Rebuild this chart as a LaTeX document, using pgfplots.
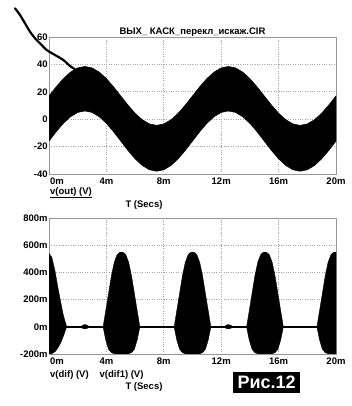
\documentclass[border=0pt]{standalone}
\usepackage{pgfplots}
\pgfplotsset{compat=1.18}
\usepackage{fontspec}
\setmainfont{Liberation Sans}
\newcommand{\tf}{\fontsize{9.5bp}{11bp}\selectfont\bfseries}
\definecolor{frame}{RGB}{150,150,150}
\definecolor{gridc}{RGB}{165,165,165}
\begin{document}
\begin{tikzpicture}[x=1bp,y=1bp]
\path[use as bounding box] (0,0) rectangle (352,406);
\pgfplotsset{
  mcap/.style={
    scale only axis, width=287bp,
    xmin=0, xmax=20,
    xtick={0,4,8,12,16,20},
    xticklabels={{\makebox[0pt][l]{\hspace{1bp}0m}},4m,8m,12m,16m,20m},
    major tick length=0pt,
    grid=major,
    grid style={gridc, dotted, line width=0.8bp},
    axis line style={frame, line width=0.9bp},
    ticklabel style={font=\tf},
    yticklabel style={inner sep=1.2bp},
  }
}
% ---------------- top axis ----------------
\begin{axis}[mcap, height=137bp, at={(49bp,232bp)}, anchor=south west,
  ymin=-40, ymax=60, ytick={-40,-20,0,20,40,60},
  yticklabels={-40,-20,0,20,40,60}]
\addplot[fill=black, draw=black, line width=0.5bp] coordinates {
 (0,17) (0.5,23.64) (1,29.64) (1.5,34.39) (2,37.45) (2.5,38.5) (3,37.45) (3.5,34.39) (4,29.64) (4.5,23.64)
 (5,17) (5.5,10.36) (6,4.36) (6.5,-0.39) (7,-3.45) (7.5,-4.5) (8,-3.45) (8.5,-0.39) (9,4.36) (9.5,10.36)
 (10,17) (10.5,23.64) (11,29.64) (11.5,34.39) (12,37.45) (12.5,38.5) (13,37.45) (13.5,34.39) (14,29.64) (14.5,23.64)
 (15,17) (15.5,10.36) (16,4.36) (16.5,-0.39) (17,-3.45) (17.5,-4.5) (18,-3.45) (18.5,-0.39) (19,4.36) (19.5,10.36)
 (20,17)
 (20,-16) (19.5,-22.8) (19,-28.94) (18.5,-33.8) (18,-36.92) (17.5,-38) (17,-36.92) (16.5,-33.8) (16,-28.94) (15.5,-22.8)
 (15,-16) (14.5,-9.2) (14,-3.06) (13.5,1.8) (13,4.92) (12.5,6) (12,4.92) (11.5,1.8) (11,-3.06) (10.5,-9.2)
 (10,-16) (9.5,-22.8) (9,-28.94) (8.5,-33.8) (8,-36.92) (7.5,-38) (7,-36.92) (6.5,-33.8) (6,-28.94) (5.5,-22.8)
 (5,-16) (4.5,-9.2) (4,-3.06) (3.5,1.8) (3,4.92) (2.5,6) (2,4.92) (1.5,1.8) (1,-3.06) (0.5,-9.2)
 (0,-16)
} -- cycle;
\end{axis}
\node[anchor=base, font=\tf, inner sep=0] at (192.5,371.3) {ВЫХ\_ КАСК\_перекл\_искаж.CIR};
% ---------------- bottom axis ----------------
\begin{axis}[mcap, height=136bp, at={(49bp,52bp)}, anchor=south west,
  ymin=-200, ymax=800, ytick={-200,0,200,400,600,800},
  yticklabels={-200m,0m,200m,400m,600m,800m}]
\addplot[black, line width=1.6bp] coordinates {(0,0) (20,0)};
% burst 1
\addplot[fill=black, draw=black, line width=0.4bp] coordinates {
 (0,540) (0.2,510) (0.42,410) (0.6,300) (0.77,205) (1.0,85) (1.23,0)
 (1.05,-55) (0.85,-110) (0.65,-150) (0.45,-180) (0.2,-198) (0,-200)
} -- cycle;
% burst 2
\addplot[fill=black, draw=black, line width=0.4bp] coordinates {
 (3.77,0) (3.95,115) (4.15,245) (4.35,375) (4.55,475) (4.75,530) (4.9,545) (5.05,550) (5.2,545) (5.35,530) (5.55,475) (5.75,375) (5.95,245) (6.15,115) (6.33,0)
 (6.15,-95) (5.95,-165) (5.75,-190) (5.55,-198) (5.35,-200) (4.75,-200) (4.55,-198) (4.35,-190) (4.15,-165) (3.95,-95)
} -- cycle;
% burst 3
\addplot[fill=black, draw=black, line width=0.4bp] coordinates {
 (8.72,0) (8.9,115) (9.1,245) (9.3,375) (9.5,475) (9.7,530) (9.85,545) (10.0,550) (10.15,545) (10.3,530) (10.5,475) (10.7,375) (10.9,245) (11.1,115) (11.28,0)
 (11.1,-95) (10.9,-165) (10.7,-190) (10.5,-198) (10.3,-200) (9.7,-200) (9.5,-198) (9.3,-190) (9.1,-165) (8.9,-95)
} -- cycle;
% burst 4
\addplot[fill=black, draw=black, line width=0.4bp] coordinates {
 (13.77,0) (13.95,115) (14.15,245) (14.35,375) (14.55,475) (14.75,530) (14.9,545) (15.05,550) (15.2,545) (15.35,530) (15.55,475) (15.75,375) (15.95,245) (16.15,115) (16.33,0)
 (16.15,-95) (15.95,-165) (15.75,-190) (15.55,-198) (15.35,-200) (14.75,-200) (14.55,-198) (14.35,-190) (14.15,-165) (13.95,-95)
} -- cycle;
% burst 5
\addplot[fill=black, draw=black, line width=0.4bp] coordinates {
 (18.67,0) (18.85,115) (19.05,245) (19.25,375) (19.45,475) (19.65,530) (19.8,545) (19.95,550) (20,549)
 (20,-200) (19.65,-200) (19.45,-198) (19.25,-190) (19.05,-165) (18.85,-95)
} -- cycle;
% small bumps
\addplot[fill=black, draw=black, line width=0.3bp] coordinates {
 (2.2,0) (2.35,12) (2.5,17) (2.65,12) (2.85,0) (2.65,-12) (2.5,-16) (2.35,-12)
} -- cycle;
\addplot[fill=black, draw=black, line width=0.3bp] coordinates {
 (12.2,0) (12.35,12) (12.5,17) (12.65,12) (12.85,0) (12.65,-12) (12.5,-16) (12.35,-12)
} -- cycle;
\end{axis}
% ---------------- labels ----------------
\node[anchor=base west, font=\tf, inner sep=0] at (50,212) {\underline{v(out) (V)}};
\node[anchor=base, font=\tf, inner sep=0] at (144,198.5) {T (Secs)};
\node[anchor=base west, font=\tf, inner sep=0] at (50,29) {v(dif) (V)};
\node[anchor=base west, font=\tf, inner sep=0] at (99.5,29) {v(dif1) (V)};
\node[anchor=base, font=\tf, inner sep=0] at (144,17) {T (Secs)};
\node[fill=black, text=white, font=\fontsize{18bp}{18bp}\selectfont\bfseries, minimum width=67bp, minimum height=21.7bp, inner sep=0] at (266.7,23.5) {Рис.12};
% hand-drawn pointer
\draw[line width=2.2bp, line cap=round, line join=round] plot[smooth, tension=0.5] coordinates {(15,397.7) (20,391) (25,382.7) (30,374.3) (35,367.7) (40,362.7) (46.7,356) (55,351) (63.3,346) (70,340) (75,336.7)};
\end{tikzpicture}
\end{document}
